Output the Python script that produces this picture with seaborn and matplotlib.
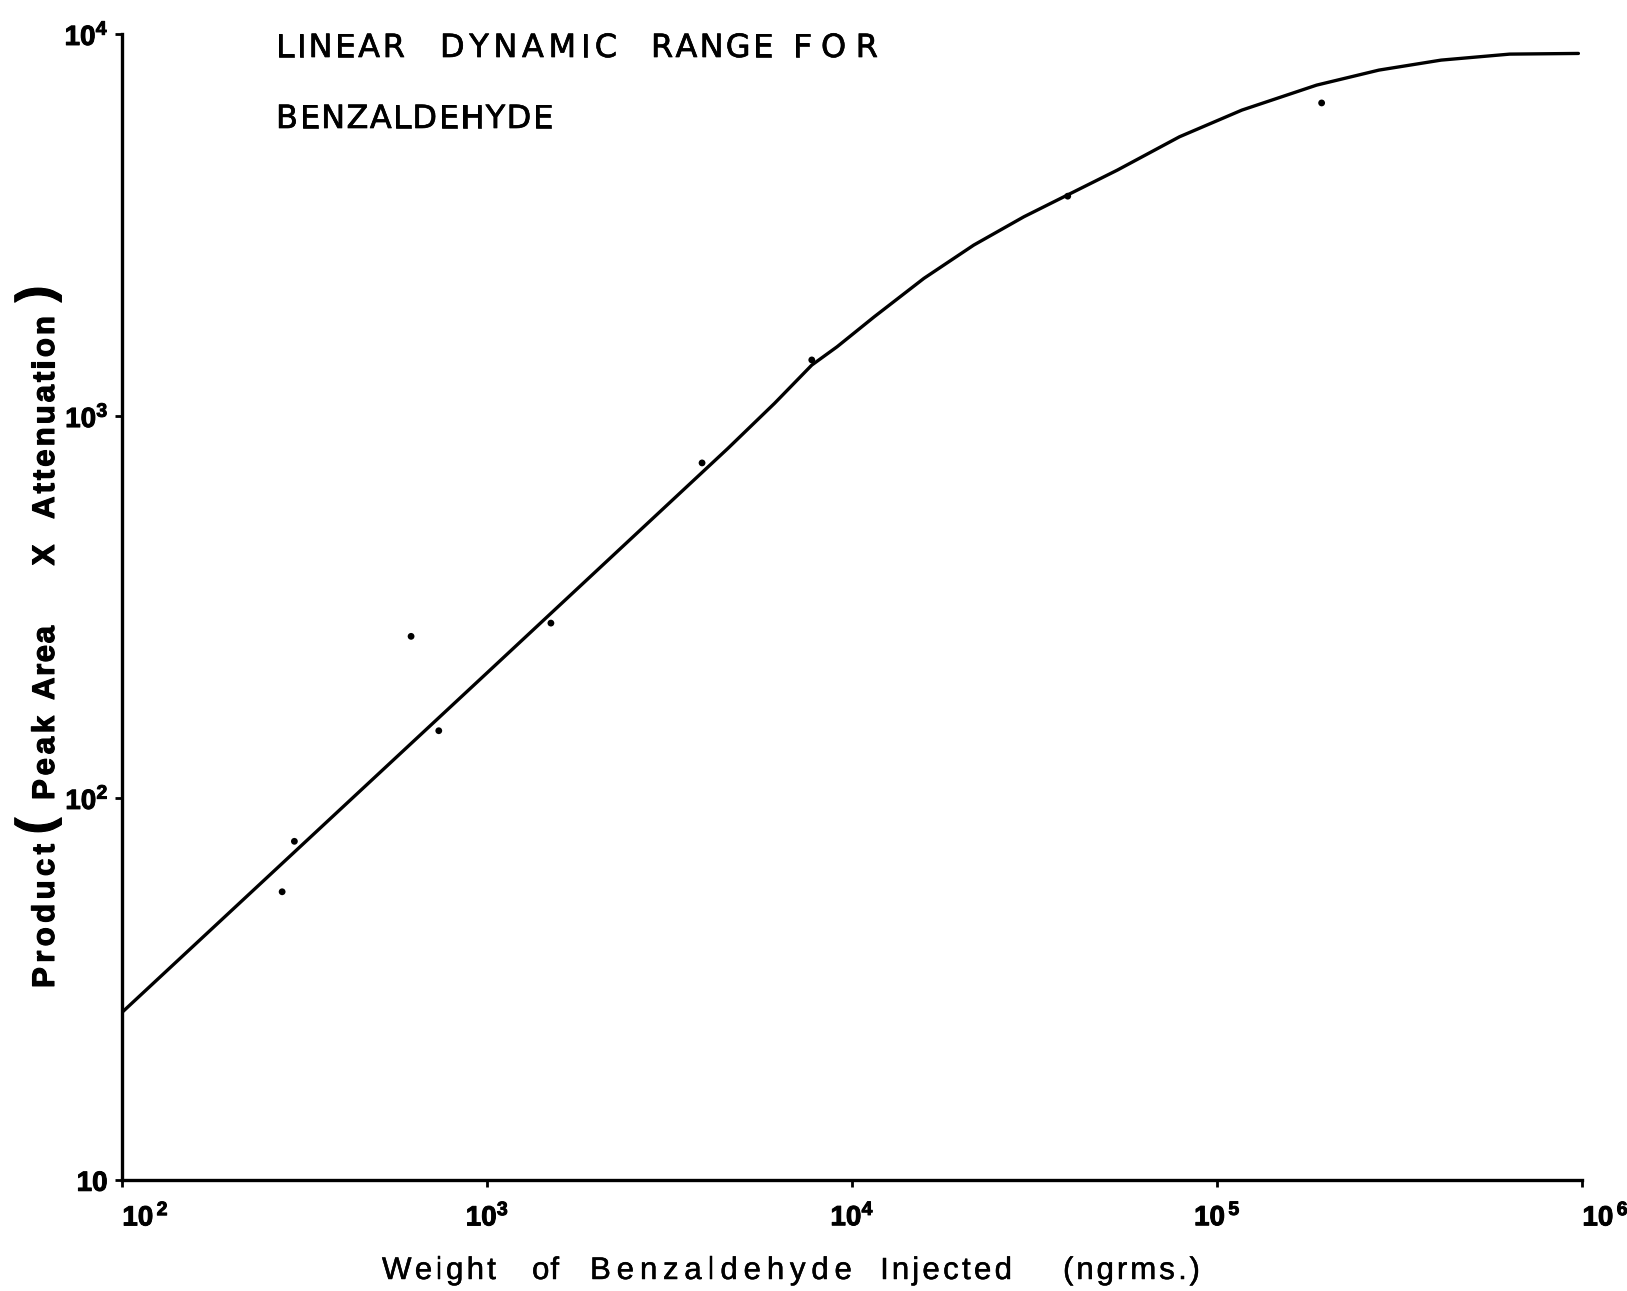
import matplotlib
matplotlib.use("Agg")
import matplotlib.pyplot as plt
import matplotlib.patheffects as pe
import pandas as pd
import seaborn as sns
from matplotlib.ticker import FixedLocator, FixedFormatter, NullLocator

# Smooth response curve: weight injected (ng) vs peak area x attenuation
curve_weight = [100, 1000, 4560, 6120, 7740, 9080, 11480, 15700, 21500, 29500,
                38800, 53200, 78700, 116700, 187000, 277000, 410000, 632000, 975000]
curve_product = [27.5, 213, 823, 1080, 1360, 1519, 1820, 2294, 2804, 3326,
                 3791, 4407, 5387, 6328, 7357, 8054, 8554, 8869, 8905]

# Individual injections
point_weight = [274, 296, 618, 736, 1493, 3874, 7740, 38900, 193000]
point_product = [56.8, 77, 265, 150, 287, 754, 1403, 3766, 6607]

x_ticks = [1e2, 1e3, 1e4, 1e5, 1e6]
x_tick_labels = [r"$\mathbf{10^{\,2}}$", r"$\mathbf{10^{3}}$", r"$\mathbf{10^{4}}$",
                 r"$\mathbf{10^{\,5}}$", r"$\mathbf{10^{\,6}}$"]
y_ticks = [10, 100, 1000, 10000]
y_tick_labels = [r"$\mathbf{10}$", r"$\mathbf{10^{2}}$", r"$\mathbf{10^{3}}$", r"$\mathbf{10^{4}}$"]

title_line1 = ["LINEAR", "DYNAMIC", "RANGE", "FOR"]
title_line2 = ["BENZALDEHYDE"]
x_label_words = ["Weight", "of", "Benzaldehyde", "Injected", "(ngrms.)"]
y_label_words = ["Product", "(", "Peak", "Area", "X", "Attenuation", ")"]

sns.set_theme(style="white")
plt.rcParams["font.family"] = ["DejaVu Sans"]
plt.rcParams["mathtext.fontset"] = "custom"
plt.rcParams["mathtext.bf"] = "Liberation Sans:bold"
plt.rcParams["mathtext.rm"] = "Liberation Sans"

curve = pd.DataFrame({"weight": curve_weight, "product": curve_product})
points = pd.DataFrame({"weight": point_weight, "product": point_product})

W, H = 1627, 1291
fig = plt.figure(figsize=(W / 100, H / 100), dpi=100)
ax = fig.add_axes([0.0752, 0.0861, 0.8974, 0.8874])
ax.set_xscale("log")
ax.set_yscale("log")

sns.lineplot(data=curve, x="weight", y="product", ax=ax, color="black",
             linewidth=2.4, sort=False)
sns.scatterplot(data=points, x="weight", y="product", ax=ax, color="black",
                s=24, edgecolor="none")

ax.set_xlim(100, 1e6)
ax.set_ylim(10, 1e4)

ax.xaxis.set_major_locator(FixedLocator(x_ticks))
ax.xaxis.set_major_formatter(FixedFormatter(x_tick_labels))
ax.yaxis.set_major_locator(FixedLocator(y_ticks))
ax.yaxis.set_major_formatter(FixedFormatter(y_tick_labels))
ax.xaxis.set_minor_locator(NullLocator())
ax.yaxis.set_minor_locator(NullLocator())

ax.tick_params(axis="x", direction="out", length=5, width=2, pad=12,
               labelsize=20, colors="black", bottom=True)
ax.tick_params(axis="y", direction="out", length=5, width=2, pad=5,
               labelsize=20, colors="black", left=True)

ink = [pe.withStroke(linewidth=0.7, foreground="black")]
xlabels = ax.get_xticklabels()
xlabels[0].set_horizontalalignment("left")
xlabels[-1].set_horizontalalignment("left")
for lab in xlabels + ax.get_yticklabels():
    lab.set_path_effects(ink)

for side in ("top", "right"):
    ax.spines[side].set_visible(False)
for side in ("left", "bottom"):
    ax.spines[side].set_color("black")
    ax.spines[side].set_linewidth(2.4)

ax.set_xlabel("")
ax.set_ylabel("")
ax.grid(False)

renderer = fig.canvas.get_renderer()


def glyph_width(ch, **kw):
    t = fig.text(0, 0, ch, **kw)
    w = t.get_window_extent(renderer).width
    t.remove()
    return w


def spaced_word(word, start, end, fixed, vertical=False, stroke=0.8, **kw):
    """Draw a word letter by letter so it spans start..end (pixels)."""
    widths = [glyph_width(c, **kw) for c in word]
    n = len(word)
    if n == 1:
        start = (start + end) / 2 + (widths[0] / 2 if vertical else -widths[0] / 2)
        gap = 0
    else:
        gap = max((abs(end - start) - sum(widths)) / (n - 1), 1.0)
    effects = [pe.withStroke(linewidth=stroke, foreground="black")]
    pos = start
    for c, w in zip(word, widths):
        if vertical:
            fig.text(fixed / W, 1 - pos / H, c, rotation=90, rotation_mode="anchor",
                     ha="left", va="baseline", color="black",
                     path_effects=effects, **kw)
            pos -= w + gap
        else:
            fig.text(pos / W, 1 - fixed / H, c, ha="left", va="baseline",
                     color="black", path_effects=effects, **kw)
            pos += w + gap


# Title block
for word, (a, b) in zip(title_line1, [(276, 405), (440, 617), (651, 773), (793, 878)]):
    spaced_word(word, a, b, 57, stroke=0.5, fontsize=23)
for word, (a, b) in zip(title_line2, [(276, 553)]):
    spaced_word(word, a, b, 128, stroke=0.5, fontsize=23)

# Horizontal axis title
for word, (a, b) in zip(x_label_words, [(382, 496), (532, 558), (590, 852),
                                        (880, 1012), (1063, 1200)]):
    spaced_word(word, a, b, 1279, stroke=0.35, fontsize=22.5,
                family="Liberation Sans")

# Vertical axis title (reads upward; spans given bottom -> top)
y_spans = [(988, 844), (850, 802), (800, 716), (700, 626), (566, 544),
           (519, 316), (318, 270)]
for word, (a, b) in zip(y_label_words, y_spans):
    big = word in ("(", ")")
    spaced_word(word, a, b, 51 if big else 54, vertical=True,
                fontsize=36 if big else 22.5, fontweight="bold",
                family="Liberation Sans")

fig.savefig("out.png", dpi=100, facecolor="white")
